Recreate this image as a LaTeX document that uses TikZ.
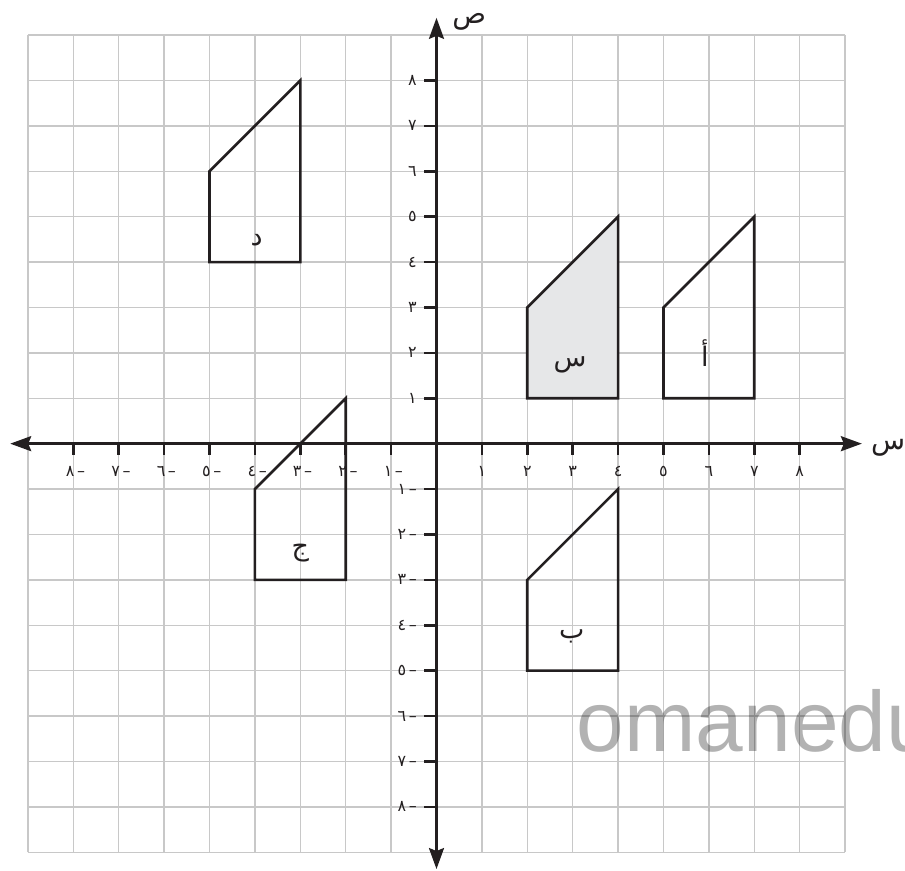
\documentclass[tikz,border=0pt]{standalone}
\usepackage{fontspec}
\setmainfont{DejaVu Sans}
\newfontfamily\arabicfont[Script=Arabic]{DejaVu Sans}
\newfontfamily\wmfont{Liberation Sans}
\TeXXeTstate=1
\usetikzlibrary{arrows.meta}
\definecolor{gridgray}{HTML}{C8C8C8}
\definecolor{ink}{HTML}{231F20}
\definecolor{shade}{HTML}{E6E7E8}
\tikzset{
  gridline/.style={draw=gridgray, line width=1.4bp},
  axisline/.style={draw=ink, line width=2.6bp, {Stealth[length=21bp,width=15bp,inset=3bp]}-{Stealth[length=21bp,width=15bp,inset=3bp]}},
  tickmark/.style={draw=ink, line width=2.6bp},
  figshape/.style={draw=ink, line width=2.6bp, line join=miter},
  ticklab/.style={inner sep=0pt, font=\fontsize{16}{16}\selectfont, text=ink},
  figlab/.style={inner sep=0pt, font=\arabicfont\fontsize{27}{27}\selectfont, text=ink},
  axislab/.style={inner sep=0pt, font=\arabicfont\fontsize{28}{28}\selectfont, text=ink}
}
\begin{document}
\begin{tikzpicture}[x=45.4bp,y=45.4bp]
\useasboundingbox (-9.615,-9.41) rectangle (10.32,9.773);
% grid
\foreach \k in {-9,...,9} {
  \draw[gridline] (\k,-9) -- (\k,9);
  \draw[gridline] (-9,\k) -- (9,\k);
}
% watermark
\node[anchor=base west, inner sep=0pt, text=black, text opacity=0.3, font=\wmfont\fontsize{86}{86}\selectfont] (wm) at (3.09,-6.79) {omanedu};
% shapes
\draw[figshape, fill=shade] (2,1) -- (4,1) -- (4,5) -- (2,3) -- cycle;
\draw[figshape] (5,1) -- (7,1) -- (7,5) -- (5,3) -- cycle;
\draw[figshape] (-5,4) -- (-3,4) -- (-3,8) -- (-5,6) -- cycle;
\draw[figshape] (-4,-3) -- (-2,-3) -- (-2,1) -- (-4,-1) -- cycle;
\draw[figshape] (2,-5) -- (4,-5) -- (4,-1) -- (2,-3) -- cycle;
% axes
\coordinate (xl) at (-9.39,0);
\coordinate (xr) at (9.37,0);
\coordinate (yb) at (0,-9.37);
\coordinate (yt) at (0,9.38);
\draw[axisline] (xl) -- (xr);
\draw[axisline] (yb) -- (yt);
% ticks
\foreach \i in {1,...,8} {
  \draw[tickmark] (\i,0) -- (\i,-0.26);
  \draw[tickmark] (-\i,0) -- (-\i,-0.26);
  \draw[tickmark] (0,\i) -- (-0.27,\i);
  \draw[tickmark] (0,-\i) -- (-0.27,-\i);
}
% tick labels
\foreach \i/\d in {1/١,2/٢,3/٣,4/٤,5/٥,6/٦,7/٧,8/٨} {
  \node[ticklab] (xp\i) at (\i,-0.62) {\d};
  \node[ticklab, anchor=center] (xn\i) at (-\i+0.05,-0.62) {\hbox{\d}\hbox{\,–}};
  \node[ticklab, anchor=east] (yp\i) at (-0.43,\i) {\d};
  \node[ticklab, anchor=east] (yn\i) at (-0.43,-\i) {\hbox{\d}\hbox{\,–}};
}
% figure labels
\node[figlab] (ls) at (2.94,1.73) {\beginR س\endR};
\node[figlab] (la) at (5.91,1.99) {\beginR أ\endR};
\node[figlab] (ld) at (-3.96,4.49) {\beginR د\endR};
\node[figlab] (lj) at (-3.0,-2.41) {\beginR ج\endR};
\node[figlab] (lb) at (2.98,-4.25) {\beginR ب\endR};
% axis labels
\node[axislab] (ys) at (0.72,9.3) {\beginR ص\endR};
\node[axislab, anchor=west] (xs) at (9.57,-0.1) {\beginR س\endR};
\end{tikzpicture}
\end{document}
